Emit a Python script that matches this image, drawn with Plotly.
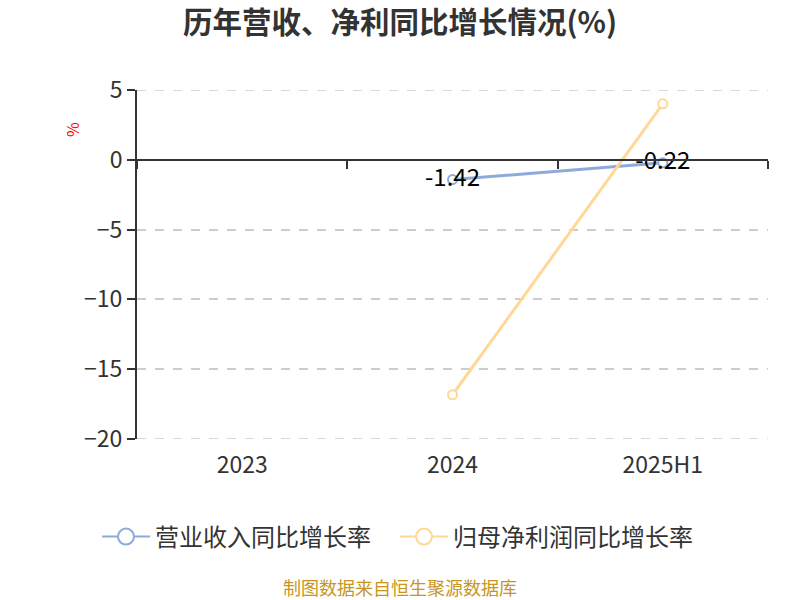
import plotly.graph_objects as go

categories = ["2023", "2024", "2025H1"]
revenue_growth = [None, -1.42, -0.22]
profit_growth = [None, -16.83, 4.01]
revenue_labels = ["", "-1.42", "-0.22"]
series_names = ["营业收入同比增长率", "归母净利润同比增长率"]
y_ticks = [5, 0, -5, -10, -15, -20]

BLUE = "#8eaadb"
ORANGE = "#ffd898"
FONT = "Noto Sans CJK SC"

L, R, T, B = 137, 32, 90, 161
W, H = 800, 600
plot_w = W - L - R
plot_h = H - T - B
bottom = H - B


def px_to_paper_y(page_y):
    return (bottom - page_y) / plot_h


def px_to_paper_x(page_x):
    return (page_x - L) / plot_w


fig = go.Figure()

fig.add_trace(go.Scatter(
    x=categories, y=revenue_growth, mode="lines+markers+text",
    text=revenue_labels, textposition="middle center",
    textfont=dict(size=24, color="#000000", family=FONT),
    line=dict(color=BLUE, width=3),
    marker=dict(symbol="circle", size=9, color="white", line=dict(width=2, color=BLUE)),
    showlegend=False, cliponaxis=False,
))
fig.add_trace(go.Scatter(
    x=categories, y=profit_growth, mode="lines+markers",
    line=dict(color=ORANGE, width=3),
    marker=dict(symbol="circle", size=9, color="white", line=dict(width=2, color=ORANGE)),
    showlegend=False, cliponaxis=False,
))
# legend entries
for name, col in zip(series_names, [BLUE, ORANGE]):
    fig.add_trace(go.Scatter(
        x=[None], y=[None], mode="lines+markers", name=name,
        line=dict(color=col, width=2),
        marker=dict(symbol="circle", size=21, color="white", line=dict(width=2, color=col)),
    ))
# axis line at zero
fig.add_trace(go.Scatter(x=categories, y=[None] * 3, xaxis="x2", showlegend=False,
                         hoverinfo="skip"))

fig.update_layout(
    width=W, height=H,
    margin=dict(l=L, r=R, t=T, b=B),
    paper_bgcolor="white", plot_bgcolor="white",
    font=dict(family=FONT, color="#333333"),
    title=dict(text="<b>历年营收、净利同比增长情况(%)</b>", x=0.5, xanchor="center",
               y=1 - 23 / H, yanchor="middle",
               font=dict(size=29.5, color="#333333", family=FONT)),
    xaxis=dict(type="category", categoryorder="array", categoryarray=categories,
               range=[-0.5, 2.5], showline=False, ticks="", showgrid=False,
               zeroline=False, tickfont=dict(size=23, color="#333333"), ticklabelstandoff=10),
    xaxis2=dict(type="category", categoryorder="array", categoryarray=categories,
                range=[-0.5, 2.5], overlaying="x", anchor="free",
                position=(0 - (-20)) / 25.0, showline=True, linecolor="#333333", linewidth=2,
                ticks="outside", ticklen=8, tickwidth=2, tickcolor="#333333",
                tickson="boundaries", showticklabels=False, showgrid=False, zeroline=False),
    yaxis=dict(range=[-20, 5], tickvals=y_ticks, showline=True, linecolor="#333333",
               linewidth=2, ticks="outside", ticklen=8, tickwidth=2, tickcolor="#333333",
               showgrid=True, gridcolor="#cccccc", griddash="dash", gridwidth=1.5,
               zeroline=False, tickfont=dict(size=23, color="#333333")),
    legend=dict(orientation="h", x=px_to_paper_x(395), xanchor="center", y=px_to_paper_y(537),
                yanchor="middle", font=dict(size=24, color="#333333"), itemwidth=48,
                entrywidth=235),
    annotations=[
        dict(text="%", x=px_to_paper_x(72), y=px_to_paper_y(130), xref="paper",
             yref="paper", showarrow=False, textangle=-90, xanchor="center",
             yanchor="middle", font=dict(size=16, color="#ff0000")),
        dict(text="制图数据来自恒生聚源数据库", x=px_to_paper_x(400), y=px_to_paper_y(587),
             xref="paper", yref="paper", showarrow=False, xanchor="center",
             yanchor="middle", font=dict(size=18, color="#c8961e")),
    ],
)
# dashed grid lines at the range ends (plotly drops gridlines lying on the plot edge)
for yv in (y_ticks[0], y_ticks[-1]):
    fig.add_hline(y=yv, line=dict(color="#cccccc", width=1.5, dash="dash"), layer="below")

fig.write_html("out.html", config={"displayModeBar": False},
               post_script="document.body.style.margin='0';")
